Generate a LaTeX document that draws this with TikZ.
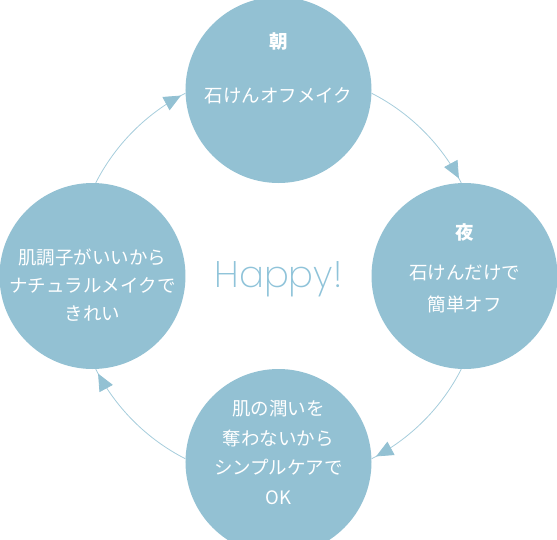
\documentclass[tikz,border=0pt]{standalone}
\usepackage{fontspec}
\usepackage{xcolor}
\usepackage{tikz}
\usetikzlibrary{arrows.meta,decorations.markings}
\newfontfamily\jpfont{Noto Sans CJK JP}
\newfontfamily\happyfont{Poppins ExtraLight}
\definecolor{bubblefill}{HTML}{93C1D3}
\definecolor{flowline}{HTML}{A6CDDC}
\definecolor{happyblue}{HTML}{8FC3D9}
\tikzset{
  bubble/.style={circle,fill=bubblefill,minimum size=186pt,inner sep=0pt},
  bubbletext/.style={text=white,align=center,inner sep=0pt,
    font=\jpfont\fontsize{18.5}{29}\selectfont},
  flow/.style={draw=flowline,line width=0.8pt,postaction={decorate},
    decoration={markings,mark=at position -5pt with
      {\arrow{Triangle[length=17pt,width=15pt,color=bubblefill]}}}}
}

\begin{document}
\begin{tikzpicture}[x=1pt,y=1pt]
  \useasboundingbox (-278.5,-263) rectangle (278.5,276);
  % the four steps
  \node[bubble] (asa)   at (0,186)  {};
  \node[bubble] (yoru)  at (186,0)  {};
  \node[bubble] (uruoi) at (0,-186) {};
  \node[bubble] (hada)  at (-186,0) {};
  \node[bubbletext] (asatxt) at ([yshift=22]asa.center)
    {\bfseries 朝\\[25pt]石けんオフメイク};
  \node[bubbletext,font=\jpfont\fontsize{18.5}{32}\selectfont] (yorutxt)
    at ([yshift=8]yoru.center) {\bfseries 夜\\[8pt]石けんだけで\\簡単オフ};
  \node[bubbletext,font=\jpfont\fontsize{18.5}{28}\selectfont] (hadatxt)
    at ([yshift=-9]hada.center) {肌調子がいいから\\ナチュラルメイクで\\きれい};
  \node[bubbletext,font=\jpfont\fontsize{18.5}{29.7}\selectfont] (uruoitxt)
    at ([yshift=9.5]uruoi.center) {肌の潤いを\\奪わないから\\シンプルケアで\\OK};
  \node[text=happyblue,font=\happyfont\fontsize{37}{37}\selectfont,
    anchor=base,inner sep=0pt] (happy) at (0,-11) {Happy!};
  % cycle
  \foreach \from/\to/\sa/\ta in {asa/yoru/-2/92,yoru/uruoi/-92/2,
      uruoi/hada/178/-88,hada/asa/88/182}
    \draw[flow] (\from.\sa) to[bend left=18,looseness=0.87] (\to.\ta);
\end{tikzpicture}
\end{document}
